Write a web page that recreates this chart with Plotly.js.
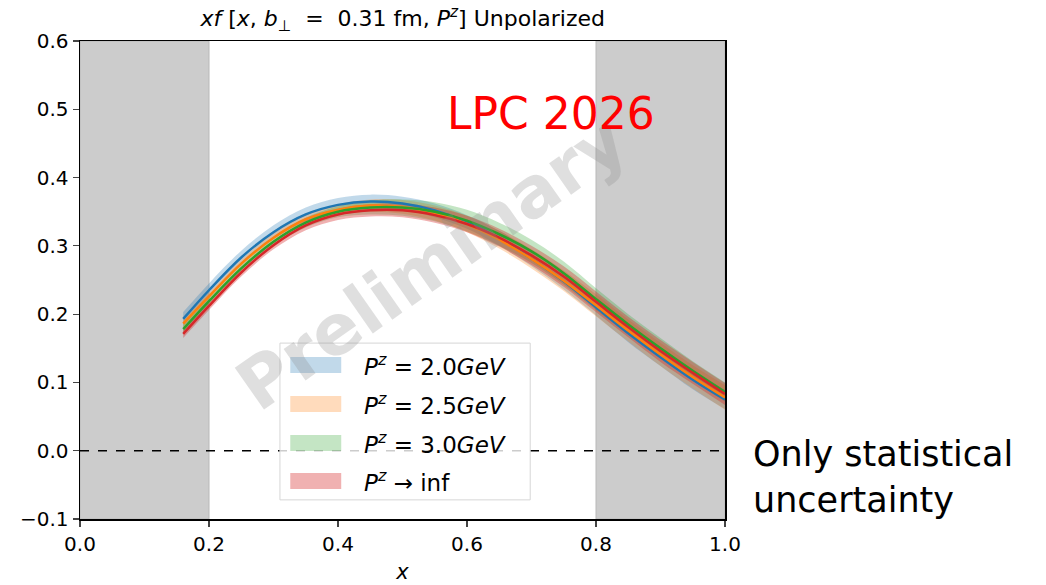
<!DOCTYPE html>
<html>
<head>
<meta charset="utf-8">
<script src="https://cdn.plot.ly/plotly-3.0.1.min.js"></script>
<style>body{margin:0;background:#fff;} #plot{width:1046px;height:585px;}</style>
</head>
<body>
<div id="plot"></div>
<script>
const xGrid = [0.16,0.20,0.25,0.30,0.35,0.40,0.45,0.50,0.55,0.60,0.65,0.70,0.75,0.80,0.85,0.90,0.95,1.00];

const seriesNames = ['<i>P</i><sup><i>z</i></sup> = 2.0<i>GeV</i>','<i>P</i><sup><i>z</i></sup> = 2.5<i>GeV</i>','<i>P</i><sup><i>z</i></sup> = 3.0<i>GeV</i>','<i>P</i><sup><i>z</i></sup> → inf'];

const pz20 = [0.193,0.235,0.283,0.320,0.346,0.360,0.365,0.362,0.352,0.335,0.311,0.281,0.248,0.210,0.172,0.137,0.104,0.075];
const pz25 = [0.186,0.226,0.274,0.312,0.339,0.353,0.359,0.357,0.348,0.332,0.309,0.281,0.249,0.213,0.176,0.141,0.108,0.078];
const pz30 = [0.178,0.219,0.267,0.306,0.334,0.350,0.356,0.356,0.350,0.337,0.317,0.292,0.260,0.222,0.185,0.150,0.117,0.086];
const pzInf = [0.171,0.212,0.261,0.301,0.330,0.346,0.352,0.352,0.345,0.332,0.312,0.286,0.255,0.218,0.181,0.146,0.114,0.083];

const err20 = [0.010,0.010,0.010,0.010,0.010,0.010,0.010,0.010,0.010,0.010,0.011,0.011,0.012,0.012,0.013,0.013,0.014,0.014];
const err25 = [0.006,0.006,0.006,0.007,0.007,0.008,0.009,0.010,0.011,0.012,0.013,0.014,0.015,0.016,0.016,0.017,0.017,0.018];
const err30 = [0.006,0.006,0.006,0.006,0.007,0.008,0.010,0.012,0.014,0.016,0.017,0.017,0.017,0.016,0.015,0.015,0.014,0.014];
const errInf = [0.006,0.006,0.006,0.006,0.007,0.008,0.009,0.010,0.011,0.012,0.013,0.014,0.015,0.015,0.015,0.016,0.016,0.016];

const colors = ['#1f77b4','#ff7f0e','#2ca02c','#d62728'];
const bandAlpha = [0.28, 0.28, 0.28, 0.36];
const series = [pz20, pz25, pz30, pzInf];
const errs = [err20, err25, err30, errInf];

const xTicks = [0.0,0.2,0.4,0.6,0.8,1.0];
const xTickText = ['0.0','0.2','0.4','0.6','0.8','1.0'];
const yTicks = [-0.1,0.0,0.1,0.2,0.3,0.4,0.5,0.6];
const yTickText = ['−0.1','0.0','0.1','0.2','0.3','0.4','0.5','0.6'];

function hexA(h, a){
  const r=parseInt(h.slice(1,3),16), g=parseInt(h.slice(3,5),16), b=parseInt(h.slice(5,7),16);
  return `rgba(${r},${g},${b},${a})`;
}

const traces = [];
series.forEach((s,i)=>{
  const lo = s.map((v,k)=>v-errs[i][k]);
  const hi = s.map((v,k)=>v+errs[i][k]);
  traces.push({x:xGrid, y:lo, mode:'lines', line:{width:0, shape:'spline'}, showlegend:false, hoverinfo:'skip'});
  traces.push({x:xGrid, y:hi, mode:'lines', line:{width:0, shape:'spline'}, fill:'tonexty',
    fillcolor:hexA(colors[i],bandAlpha[i]), name:seriesNames[i], showlegend:false});
});
series.forEach((s,i)=>{
  traces.push({x:xGrid, y:s, mode:'lines', line:{color:colors[i], width:2.5, shape:'spline'}, showlegend:false});
});

const fontMain = 'DejaVu Sans, sans-serif';

// hand-built legend (matplotlib style: patch swatches in a framed box)
const legX0 = 0.310, legX1 = 0.698, legY0 = 0.040, legY1 = 0.368;
const rowY = [0.322, 0.2406, 0.159, 0.0795];
const legendShapes = [
  {type:'rect', xref:'paper', yref:'paper', x0:legX0, x1:legX1, y0:legY0, y1:legY1,
    fillcolor:'rgba(255,255,255,0.8)', line:{color:'#d6d6d6', width:1}, layer:'above'}
];
const legendAnn = [];
seriesNames.forEach((n,i)=>{
  legendShapes.push({type:'rect', xref:'paper', yref:'paper', x0:0.326, x1:0.405, y0:rowY[i]-0.0167, y1:rowY[i]+0.0167,
    fillcolor:hexA(colors[i],bandAlpha[i]), line:{width:0}, layer:'above'});
  legendAnn.push({text:n, xref:'paper', yref:'paper', x:0.437, y:rowY[i], xanchor:'left', yanchor:'middle', showarrow:false,
    font:{family:fontMain, size:23, color:'#000'}});
});

const layout = {
  width:1046, height:585,
  margin:{l:80, r:321, t:41, b:66},
  paper_bgcolor:'#fff', plot_bgcolor:'#fff',
  font:{family:fontMain, size:20, color:'#000'},
  showlegend:false,
  title:{text:'<i>xf</i>&nbsp;[<i>x</i>, <i>b</i><sub>⊥</sub>&nbsp; = &nbsp;0.31 fm, <i>P</i><sup><i>z</i></sup>] Unpolarized',
    font:{family:fontMain, size:22, color:'#000'}, x:0.385, xanchor:'center', y:0.968, yanchor:'middle'},
  xaxis:{range:[0,1], tickvals:xTicks, ticktext:xTickText, ticks:'outside', ticklen:6, tickwidth:1.2,
    showline:true, linecolor:'#000', linewidth:1.5, mirror:true, showgrid:false, zeroline:false,
    title:{text:'<i>x</i>', font:{family:fontMain, size:21}, standoff:10}, tickfont:{size:20}},
  yaxis:{range:[-0.1,0.6], tickvals:yTicks, ticktext:yTickText, ticks:'outside', ticklen:6, tickwidth:1.2,
    showline:true, linecolor:'#000', linewidth:1.5, mirror:true, showgrid:false, zeroline:false, tickfont:{size:20}},
  shapes:[
    {type:'rect', xref:'x', yref:'paper', x0:0, x1:0.2, y0:0, y1:1, fillcolor:'#cccccc', line:{color:'#b8b8b8', width:1}, layer:'below'},
    {type:'rect', xref:'x', yref:'paper', x0:0.8, x1:1.0, y0:0, y1:1, fillcolor:'#cccccc', line:{color:'#b8b8b8', width:1}, layer:'below'},
    {type:'line', xref:'paper', yref:'y', x0:0, x1:1, y0:0, y1:0, line:{color:'#000', width:1.5, dash:'dash'}}
  ].concat(legendShapes),
  annotations:[
    {text:'<b>Preliminary</b>', xref:'paper', yref:'paper', x:0.545, y:0.535, xanchor:'center', yanchor:'middle', showarrow:false, textangle:-35,
      font:{family:fontMain, size:70, color:'rgba(140,140,140,0.28)'}},
    {text:'LPC 2026', xref:'paper', yref:'paper', x:0.730, y:0.849, xanchor:'center', yanchor:'middle', showarrow:false,
      font:{family:fontMain, size:44, color:'#ff0000'}},
    {text:'Only statistical<br>uncertainty', xref:'paper', yref:'paper', x:1.04, y:0.088, xanchor:'left', yanchor:'middle', align:'left', showarrow:false,
      font:{family:fontMain, size:35, color:'#000'}}
  ].concat(legendAnn)
};

Plotly.newPlot('plot', traces, layout, {displayModeBar:false, staticPlot:true});
</script>
</body>
</html>
